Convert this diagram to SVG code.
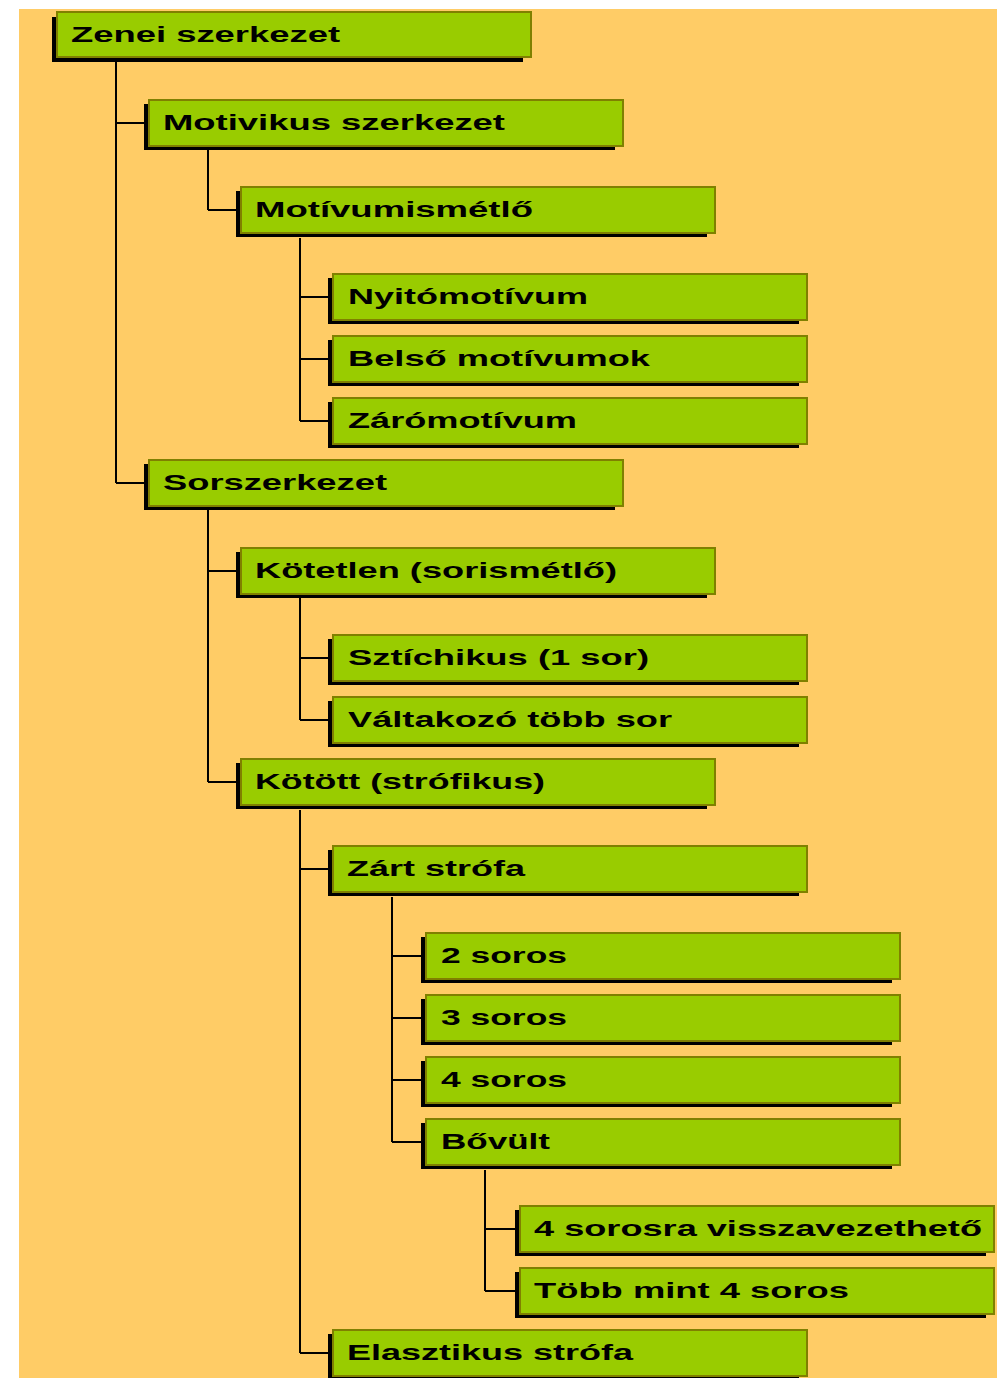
<svg xmlns="http://www.w3.org/2000/svg" width="1007" height="1378" viewBox="0 0 1007 1378">
<style>
.sh{fill:#000000}
.bx{fill:#99CC00;stroke:#808000;stroke-width:2}
.t{font-family:"Liberation Sans",Arial,sans-serif;font-weight:bold;font-size:22px;fill:#000000}
.c{fill:none;stroke:#000000;stroke-width:2}
</style>
<rect x="0" y="0" width="1007" height="1378" fill="#FFFFFF"/>
<rect x="19" y="9" width="978" height="1369" fill="#FFCC66"/>
<g id="connectors">
<path class="c" d="M116 62V483M116 123H144M116 483H144"/>
<path class="c" d="M208 150V210M208 210H236"/>
<path class="c" d="M300 238V421M300 297H328M300 359H328M300 421H328"/>
<path class="c" d="M208 510V782M208 571H236M208 782H236"/>
<path class="c" d="M300 598V720M300 658H328M300 720H328"/>
<path class="c" d="M300 810V1353M300 869H328M300 1353H328"/>
<path class="c" d="M392 897V1142M392 956H421M392 1018H421M392 1080H421M392 1142H421"/>
<path class="c" d="M485 1170V1291M485 1229H515M485 1291H515"/>
</g>
<g id="n1"><rect class="sh" x="52" y="17" width="471" height="45"/><rect class="bx" x="57" y="12" width="474" height="45"/><text class="t" x="71" y="42" textLength="269" lengthAdjust="spacingAndGlyphs">Zenei szerkezet</text></g>
<g id="n2"><rect class="sh" x="144" y="104" width="471" height="46"/><rect class="bx" x="149" y="100" width="474" height="46"/><text class="t" x="163" y="130" textLength="342" lengthAdjust="spacingAndGlyphs">Motivikus szerkezet</text></g>
<g id="n3"><rect class="sh" x="236" y="191" width="471" height="46"/><rect class="bx" x="241" y="187" width="474" height="46"/><text class="t" x="255" y="217" textLength="278" lengthAdjust="spacingAndGlyphs">Motívumismétlő</text></g>
<g id="n4"><rect class="sh" x="328" y="278" width="471" height="46"/><rect class="bx" x="333" y="274" width="474" height="46"/><text class="t" x="348" y="304" textLength="240" lengthAdjust="spacingAndGlyphs">Nyitómotívum</text></g>
<g id="n5"><rect class="sh" x="328" y="340" width="471" height="46"/><rect class="bx" x="333" y="336" width="474" height="46"/><text class="t" x="348" y="366" textLength="302" lengthAdjust="spacingAndGlyphs">Belső motívumok</text></g>
<g id="n6"><rect class="sh" x="328" y="402" width="471" height="46"/><rect class="bx" x="333" y="398" width="474" height="46"/><text class="t" x="348" y="428" textLength="229" lengthAdjust="spacingAndGlyphs">Zárómotívum</text></g>
<g id="n7"><rect class="sh" x="144" y="464" width="471" height="46"/><rect class="bx" x="149" y="460" width="474" height="46"/><text class="t" x="163" y="490" textLength="224" lengthAdjust="spacingAndGlyphs">Sorszerkezet</text></g>
<g id="n8"><rect class="sh" x="236" y="552" width="471" height="46"/><rect class="bx" x="241" y="548" width="474" height="46"/><text class="t" x="255" y="578" textLength="362" lengthAdjust="spacingAndGlyphs">Kötetlen (sorismétlő)</text></g>
<g id="n9"><rect class="sh" x="328" y="639" width="471" height="46"/><rect class="bx" x="333" y="635" width="474" height="46"/><text class="t" x="348" y="665" textLength="301" lengthAdjust="spacingAndGlyphs">Sztíchikus (1 sor)</text></g>
<g id="n10"><rect class="sh" x="328" y="701" width="471" height="46"/><rect class="bx" x="333" y="697" width="474" height="46"/><text class="t" x="348" y="727" textLength="324" lengthAdjust="spacingAndGlyphs">Váltakozó több sor</text></g>
<g id="n11"><rect class="sh" x="236" y="763" width="471" height="46"/><rect class="bx" x="241" y="759" width="474" height="46"/><text class="t" x="255" y="789" textLength="290" lengthAdjust="spacingAndGlyphs">Kötött (strófikus)</text></g>
<g id="n12"><rect class="sh" x="328" y="850" width="471" height="46"/><rect class="bx" x="333" y="846" width="474" height="46"/><text class="t" x="347" y="876" textLength="178" lengthAdjust="spacingAndGlyphs">Zárt strófa</text></g>
<g id="n13"><rect class="sh" x="421" y="937" width="471" height="46"/><rect class="bx" x="426" y="933" width="474" height="46"/><text class="t" x="441" y="963" textLength="126" lengthAdjust="spacingAndGlyphs">2 soros</text></g>
<g id="n14"><rect class="sh" x="421" y="999" width="471" height="46"/><rect class="bx" x="426" y="995" width="474" height="46"/><text class="t" x="441" y="1025" textLength="126" lengthAdjust="spacingAndGlyphs">3 soros</text></g>
<g id="n15"><rect class="sh" x="421" y="1061" width="471" height="46"/><rect class="bx" x="426" y="1057" width="474" height="46"/><text class="t" x="441" y="1087" textLength="126" lengthAdjust="spacingAndGlyphs">4 soros</text></g>
<g id="n16"><rect class="sh" x="421" y="1123" width="471" height="46"/><rect class="bx" x="426" y="1119" width="474" height="46"/><text class="t" x="441" y="1149" textLength="109" lengthAdjust="spacingAndGlyphs">Bővült</text></g>
<g id="n17"><rect class="sh" x="515" y="1210" width="471" height="46"/><rect class="bx" x="520" y="1206" width="474" height="46"/><text class="t" x="534" y="1236" textLength="448" lengthAdjust="spacingAndGlyphs">4 sorosra visszavezethető</text></g>
<g id="n18"><rect class="sh" x="515" y="1272" width="471" height="46"/><rect class="bx" x="520" y="1268" width="474" height="46"/><text class="t" x="534" y="1298" textLength="315" lengthAdjust="spacingAndGlyphs">Több mint 4 soros</text></g>
<g id="n19"><rect class="sh" x="328" y="1334" width="471" height="46"/><rect class="bx" x="333" y="1330" width="474" height="46"/><text class="t" x="347" y="1360" textLength="286" lengthAdjust="spacingAndGlyphs">Elasztikus strófa</text></g>
</svg>
